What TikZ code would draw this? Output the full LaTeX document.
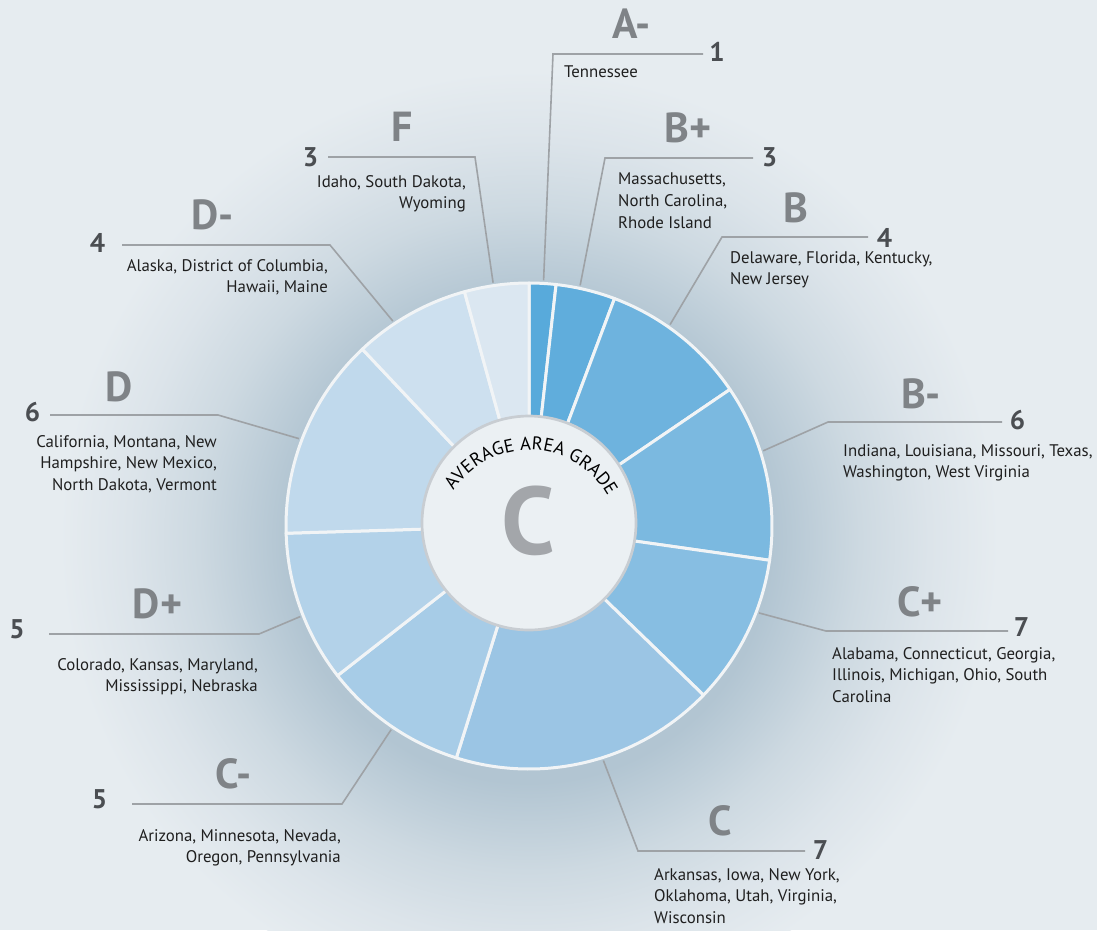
\documentclass[tikz,border=0pt]{standalone}
\usepackage{fontspec}
\setmainfont{PT Sans}
\usetikzlibrary{decorations.text}

\definecolor{bgC}{HTML}{E6ECF0}
\definecolor{haloA}{HTML}{B2C5D2}
\definecolor{haloB}{HTML}{CDD9E1}
\definecolor{haloC}{HTML}{DCE4EA}
\definecolor{gradeC}{HTML}{7F8387}
\definecolor{numC}{HTML}{4B4E52}
\definecolor{lineC}{HTML}{9EA2A6}
\definecolor{ringC}{HTML}{C8CDD2}
\definecolor{hubC}{HTML}{EBF0F3}
\definecolor{bigC}{HTML}{A3A6AA}
\definecolor{gapC}{HTML}{F1F4F6}
\definecolor{segAm}{HTML}{58AADB}
\definecolor{segBp}{HTML}{60ADDC}
\definecolor{segB}{HTML}{6EB3DE}
\definecolor{segBm}{HTML}{7BB9E0}
\definecolor{segCp}{HTML}{87BEE2}
\definecolor{segC}{HTML}{9BC5E4}
\definecolor{segCm}{HTML}{A7CCE7}
\definecolor{segDp}{HTML}{B3D2E9}
\definecolor{segD}{HTML}{C0D9EC}
\definecolor{segDm}{HTML}{CDE0EF}
\definecolor{segF}{HTML}{DBE7F1}

\pgfdeclareradialshading{halo}{\pgfpoint{0bp}{0bp}}{color(0bp)=(haloA); color(12.9bp)=(haloA); color(17.6bp)=(haloB); color(21.3bp)=(haloC); color(25bp)=(bgC); color(50bp)=(bgC)}

\begin{document}
\begin{tikzpicture}[x=1pt, y=-1pt,
	seg/.style={draw=gapC, line width=3pt, line join=round},
	leader/.style={draw=lineC, line width=1.6pt}]
	\useasboundingbox (0,0) rectangle (1097,930);
	\fill[bgC] (0,0) rectangle (1097,930);
	\shade[shading=halo] (529,540) circle[radius=470];

	% leader lines: donut edge, corner, end
	\begin{scope}[shift={(529,526)}]
		\coordinate (pAm) at (-86.6:246);
		\coordinate (pBp) at (-78:246);
		\coordinate (pB) at (-55:246);
		\coordinate (pBm) at (-17.8:246);
		\coordinate (pCp) at (20.7:246);
		\coordinate (pC) at (72.4:246);
		\coordinate (pCm) at (124.1:246);
		\coordinate (pDp) at (158.4:246);
		\coordinate (pD) at (200.8:246);
		\coordinate (pDm) at (236.4:246);
		\coordinate (pF) at (261.6:246);
	\end{scope}
	\coordinate (kAm) at (553,54);  \coordinate (eAm) at (703,54);
	\coordinate (kBp) at (605,158); \coordinate (eBp) at (753,158);
	\coordinate (kB) at (722,237);  \coordinate (eB) at (868,237);
	\coordinate (kBm) at (828,422); \coordinate (eBm) at (1002,422);
	\coordinate (kCp) at (826,631); \coordinate (eCp) at (1008,631);
	\coordinate (kC) at (638,851);  \coordinate (eC) at (805,851);
	\coordinate (kCm) at (342,804); \coordinate (eCm) at (132,804);
	\coordinate (kDp) at (259,634); \coordinate (eDp) at (49,634);
	\coordinate (kD) at (218,415);  \coordinate (eD) at (50,415);
	\coordinate (kDm) at (330,245); \coordinate (eDm) at (122,245);
	\coordinate (kF) at (475,157);  \coordinate (eF) at (328,157);
	\draw[leader] (pAm) -- (kAm) -- (eAm);
	\draw[leader] (pBp) -- (kBp) -- (eBp);
	\draw[leader] (pB) -- (kB) -- (eB);
	\draw[leader] (pBm) -- (kBm) -- (eBm);
	\draw[leader] (pCp) -- (kCp) -- (eCp);
	\draw[leader] (pC) -- (kC) -- (eC);
	\draw[leader] (pCm) -- (kCm) -- (eCm);
	\draw[leader] (pDp) -- (kDp) -- (eDp);
	\draw[leader] (pD) -- (kD) -- (eD);
	\draw[leader] (pDm) -- (kDm) -- (eDm);
	\draw[leader] (pF) -- (kF) -- (eF);

	% donut
	\begin{scope}[shift={(529,526)}]
		\draw[seg, fill=segAm] (-90:243) arc[start angle=-90, end angle=-83.6, radius=243] -- (-83.6:100) arc[start angle=-83.6, end angle=-90, radius=100] -- cycle;
		\draw[seg, fill=segBp] (-83.6:243) arc[start angle=-83.6, end angle=-69.4, radius=243] -- (-69.4:100) arc[start angle=-69.4, end angle=-83.6, radius=100] -- cycle;
		\draw[seg, fill=segB] (-69.4:243) arc[start angle=-69.4, end angle=-34.2, radius=243] -- (-34.2:100) arc[start angle=-34.2, end angle=-69.4, radius=100] -- cycle;
		\draw[seg, fill=segBm] (-34.2:243) arc[start angle=-34.2, end angle=8.1, radius=243] -- (8.1:100) arc[start angle=8.1, end angle=-34.2, radius=100] -- cycle;
		\draw[seg, fill=segCp] (8.1:243) arc[start angle=8.1, end angle=44.1, radius=243] -- (44.1:100) arc[start angle=44.1, end angle=8.1, radius=100] -- cycle;
		\draw[seg, fill=segC] (44.1:243) arc[start angle=44.1, end angle=107.4, radius=243] -- (107.4:100) arc[start angle=107.4, end angle=44.1, radius=100] -- cycle;
		\draw[seg, fill=segCm] (107.4:243) arc[start angle=107.4, end angle=142, radius=243] -- (142:100) arc[start angle=142, end angle=107.4, radius=100] -- cycle;
		\draw[seg, fill=segDp] (142:243) arc[start angle=142, end angle=178.3, radius=243] -- (178.3:100) arc[start angle=178.3, end angle=142, radius=100] -- cycle;
		\draw[seg, fill=segD] (178.3:243) arc[start angle=178.3, end angle=226.7, radius=243] -- (226.7:100) arc[start angle=226.7, end angle=178.3, radius=100] -- cycle;
		\draw[seg, fill=segDm] (226.7:243) arc[start angle=226.7, end angle=254.6, radius=243] -- (254.6:100) arc[start angle=254.6, end angle=226.7, radius=100] -- cycle;
		\draw[seg, fill=segF] (254.6:243) arc[start angle=254.6, end angle=270, radius=243] -- (270:100) arc[start angle=270, end angle=254.6, radius=100] -- cycle;
	\end{scope}

	% centre
	\node (hub) [circle, minimum size=214pt, inner sep=0pt, fill=hubC, draw=ringC, line width=2.7pt] at (529,523) {};
	\node (avg) [text=bigC, font=\fontsize{96}{96}\selectfont\bfseries, inner sep=0pt] at (528,521) {C};
	\path[decorate, decoration={text along path, text={|\fontsize{18.5}{18.5}\selectfont|AVERAGE AREA GRADE}, text align={fit to path}}]
		(529,540) ++(213:90) arc[start angle=213, end angle=331, radius=90];

	% grades
	\begin{scope}[every node/.style={text=gradeC, font=\fontsize{42}{42}\selectfont\bfseries, inner sep=0pt}]
		\node (gAm) at (631.5,24) {A-};
		\node (gBp) at (688,127.5) {B+};
		\node (gB) at (796,207.5) {B};
		\node (gBm) at (921,394) {B-};
		\node (gCp) at (920,602) {C+};
		\node (gC) at (720,821) {C};
		\node (gCm) at (233.5,774) {C-};
		\node (gDp) at (157.5,604) {D+};
		\node (gD) at (119,387) {D};
		\node (gDm) at (212.5,215) {D-};
		\node (gF) at (402.5,127) {F};
	\end{scope}

	% counts
	\begin{scope}[every node/.style={text=numC, font=\fontsize{27}{27}\selectfont\bfseries, inner sep=0pt}]
		\node (nAm) at (717,52) {1};
		\node (nBp) at (769.5,157) {3};
		\node (nB) at (884.5,238) {4};
		\node (nBm) at (1017.5,420) {6};
		\node (nCp) at (1021.5,627.5) {7};
		\node (nC) at (820.5,850) {7};
		\node (nCm) at (99.5,799) {5};
		\node (nDp) at (17,629) {5};
		\node (nD) at (32.5,412.5) {6};
		\node (nDm) at (97.5,242.5) {4};
		\node (nF) at (310.5,157) {3};
	\end{scope}

	% states
	\begin{scope}[every node/.style={text=black!88, font=\fontsize{16.8}{21.7}\selectfont, inner sep=0pt, anchor=north west, align=left}]
		\node (lAm) at (564,66) {Tennessee};
		\node (lBp) at (618,173) {Massachusetts,\\North Carolina,\\Rhode Island};
		\node (lB) at (730,251) {Delaware, Florida, Kentucky,\\New Jersey};
		\node (lBm) at (843,444) {Indiana, Louisiana, Missouri, Texas,\\Washington, West Virginia};
		\node (lCp) at (832,647) {Alabama, Connecticut, Georgia,\\Illinois, Michigan, Ohio, South\\Carolina};
		\node (lC) at (654,868) {Arkansas, Iowa, New York,\\Oklahoma, Utah, Virginia,\\Wisconsin};
	\end{scope}
	\begin{scope}[every node/.style={text=black!88, font=\fontsize{16.8}{21.7}\selectfont, inner sep=0pt, anchor=north east, align=right}]
		\node (lCm) at (341,829) {Arizona, Minnesota, Nevada,\\Oregon, Pennsylvania};
		\node (lDp) at (258,658) {Colorado, Kansas, Maryland,\\Mississippi, Nebraska};
		\node (lD) at (217,435) {California, Montana, New\\Hampshire, New Mexico,\\North Dakota, Vermont};
		\node (lDm) at (328,259) {Alaska, District of Columbia,\\Hawaii, Maine};
		\node (lF) at (466,175) {Idaho, South Dakota,\\Wyoming};
	\end{scope}
\end{tikzpicture}
\end{document}
